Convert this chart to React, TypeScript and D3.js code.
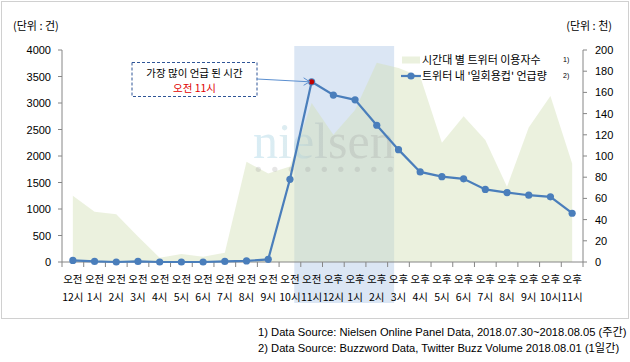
import React from "react";
import * as d3 from "d3";

const ampm = ["오전","오전","오전","오전","오전","오전","오전","오전","오전","오전","오전","오전","오후","오후","오후","오후","오후","오후","오후","오후","오후","오후","오후","오후"];
const hourLabels = ["12시","1시","2시","3시","4시","5시","6시","7시","8시","9시","10시","11시","12시","1시","2시","3시","4시","5시","6시","7시","8시","9시","10시","11시"];
const users = [1250, 950, 900, 480, 80, 150, 100, 175, 1890, 1670, 1800, 3000, 2400, 2870, 3760, 3660, 3500, 2250, 2750, 2300, 1420, 2540, 3130, 1860];
const mentions = [1.5, 0.5, 0, 0.5, 0, 0, 0, 0.5, 1, 2.5, 78, 170, 157.5, 153, 129, 106, 85, 80.5, 78.5, 68.5, 65.5, 63, 61.5, 46];
const leftTicks = [0, 500, 1000, 1500, 2000, 2500, 3000, 3500, 4000];
const rightTicks = [0, 20, 40, 60, 80, 100, 120, 140, 160, 180, 200];
const peakIndex = 11;
const highlightFrom = 11;
const highlightTo = 14;
const legendLabels = ["시간대 별 트위터 이용자수", "트위터 내 '일회용컵' 언급량"];
const footnotes = [
  "1) Data Source: Nielsen Online Panel Data, 2018.07.30~2018.08.05  (주간)",
  "2) Data Source: Buzzword Data, Twitter Buzz Volume 2018.08.01  (1일간)",
];

const FONT = "'Liberation Sans', 'Noto Sans CJK KR', sans-serif";
const KFONT = "'Noto Sans CJK KR', 'Liberation Sans', sans-serif";

export default function App() {
  const W = 630, H = 362;
  const idx = d3.range(users.length);
  const x = d3.scaleBand<number>().domain(idx).range([62, 583]);
  const bw = x.bandwidth();
  const cx = (i: number) => (x(i) as number) + bw / 2;
  const yL = d3.scaleLinear().domain([0, 4000]).range([262, 50]);
  const yR = d3.scaleLinear().domain([0, 200]).range([262, 50]);

  const area = d3.area<number>().x((d, i) => cx(i)).y0(yL(0)).y1((d) => yL(d));
  const line = d3.line<number>().x((d, i) => cx(i)).y((d) => yR(d));

  const hx0 = (x(highlightFrom) as number) - 0.3 * bw;
  const hx1 = (x(highlightTo + 1) as number) + 0.3 * bw;

  const axisColor = "#868686";
  const lineColor = "#4a7ebb";
  const px = cx(peakIndex), py = yR(mentions[peakIndex]);

  const dots = d3.range(9);

  return (
    <svg width={W} height={H} style={{ position: "absolute", left: 0, top: 0 }} fontFamily={FONT}>
      <defs>
        <linearGradient id="wm" x1="0" x2="1" y1="0" y2="0">
          <stop offset="0" stopColor="#a9d6e8" stopOpacity="0.45" />
          <stop offset="0.35" stopColor="#b7d5dc" stopOpacity="0.45" />
          <stop offset="0.55" stopColor="#9a9a9a" stopOpacity="0.25" />
          <stop offset="1" stopColor="#9a9a9a" stopOpacity="0.25" />
        </linearGradient>
      </defs>
      <rect x={0} y={0} width={W} height={H} fill="#fff" />
      <rect x={1.5} y={1.5} width={627} height={317} fill="none" stroke="#d0d0d0" strokeWidth={1} />

      {/* highlight band */}
      <rect x={hx0} y={46} width={hx1 - hx0} height={257} fill="#dbe6f4" />

      {/* area */}
      <path d={area(users) as string} fill="#d3e0b6" fillOpacity={0.45} />

      {/* watermark */}
      <text x={253} y={158} fontFamily="'Liberation Serif', 'DejaVu Serif', serif" fontSize={50} fill="url(#wm)">nielsen</text>
      {dots.map((d) => (
        <circle key={d} cx={258.3 + d * 16.5} cy={169.3} r={2.6} fill="#9a9a9a" fillOpacity={0.25} />
      ))}

      {/* left axis */}
      <line x1={62} x2={62} y1={50} y2={262} stroke={axisColor} />
      {leftTicks.map((t) => (
        <g key={t}>
          <line x1={58} x2={62} y1={yL(t)} y2={yL(t)} stroke={axisColor} />
          <text x={51} y={yL(t) + 4} textAnchor="end" fontSize={11} fill="#000">{t}</text>
        </g>
      ))}
      {/* right axis */}
      <line x1={583} x2={583} y1={50} y2={262} stroke={axisColor} />
      {rightTicks.map((t) => (
        <g key={t}>
          <line x1={583} x2={587} y1={yR(t)} y2={yR(t)} stroke={axisColor} />
          <text x={595} y={yR(t) + 4} textAnchor="start" fontSize={11} fill="#000">{t}</text>
        </g>
      ))}
      {/* x axis */}
      <line x1={62} x2={583} y1={262} y2={262} stroke={axisColor} />
      {d3.range(users.length + 1).map((i) => {
        const xx = i < users.length ? (x(i) as number) : 583;
        return <line key={i} x1={xx} x2={xx} y1={262} y2={267} stroke={axisColor} />;
      })}
      {idx.map((i) => (
        <g key={i}>
          <text x={cx(i)} y={283} textAnchor="middle" fontSize={10.5} fontFamily={KFONT} fill="#000">{ampm[i]}</text>
          <text x={cx(i)} y={301} textAnchor="middle" fontSize={10.5} fontFamily={KFONT} fill="#000">{hourLabels[i]}</text>
        </g>
      ))}

      {/* line series */}
      <path d={line(mentions) as string} fill="none" stroke={lineColor} strokeWidth={2.2} />
      {mentions.map((m, i) => (
        <circle key={i} cx={cx(i)} cy={yR(m)} r={3.6} fill={lineColor} />
      ))}
      <circle cx={px} cy={py} r={2.6} fill="#c00000" />

      {/* unit labels */}
      <text x={13} y={30} fontSize={11} fontFamily={KFONT} fill="#000">(단위 : 건)</text>
      <text x={612} y={30} textAnchor="end" fontSize={11} fontFamily={KFONT} fill="#000">(단위 : 천)</text>

      {/* legend */}
      <rect x={402} y={56.5} width={18} height={7} fill="#ebf1de" />
      <text x={422} y={64} fontSize={11} fontFamily={KFONT} fill="#000">{legendLabels[0]}</text>
      <text x={563} y={62} fontSize={7} fill="#000">1)</text>
      <line x1={401} x2={421} y1={76} y2={76} stroke={lineColor} strokeWidth={2.2} />
      <circle cx={411} cy={76} r={3.6} fill={lineColor} />
      <text x={422} y={80} fontSize={11} fontFamily={KFONT} fill="#000">{legendLabels[1]}</text>
      <text x={563} y={78} fontSize={7} fill="#000">2)</text>

      {/* annotation */}
      <rect x={132} y={62.5} width={125} height={34} fill="#fff" stroke="#2f5597" strokeDasharray="3,2" strokeWidth={1} />
      <text x={194.5} y={76.5} textAnchor="middle" fontSize={10.5} fontFamily={KFONT} fill="#000">가장 많이 언급 된 시간</text>
      <text x={194.5} y={91.5} textAnchor="middle" fontSize={10.5} fontFamily={KFONT} fill="#e00000">오전 11시</text>
      <line x1={257} y1={79} x2={px - 2} y2={py} stroke="#5b8fd0" strokeWidth={1} />
      <path d={`M${px - 8},${py - 4} L${px - 2},${py} L${px - 8},${py + 3.5}`} fill="none" stroke="#5b8fd0" strokeWidth={1} />

      {/* footnotes */}
      <text x={258} y={336} fontSize={11.2} fill="#000">{footnotes[0]}</text>
      <text x={258} y={352} fontSize={11.2} fill="#000">{footnotes[1]}</text>
    </svg>
  );
}
